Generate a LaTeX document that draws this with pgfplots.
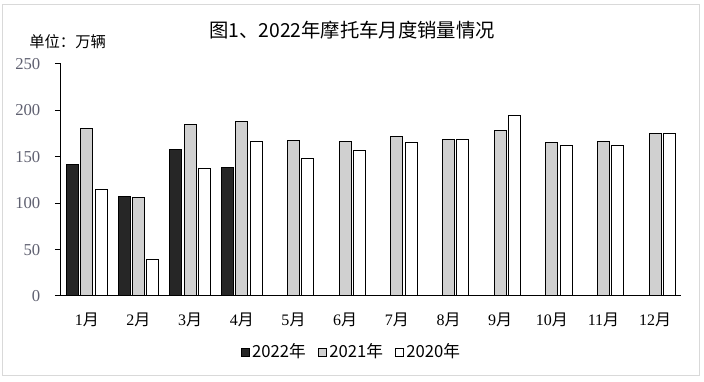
\documentclass[border=0pt]{standalone}
\usepackage{pgfplots}
\pgfplotsset{compat=1.18}
\usepackage{fontspec}
\setmainfont{Liberation Serif}
\newfontfamily\cjk{Noto Sans CJK SC}
\definecolor{c22}{HTML}{262626}
\definecolor{c21}{HTML}{D0D0D0}
\definecolor{c20}{HTML}{FFFFFF}
\definecolor{tickc}{HTML}{5F6070}
\definecolor{framec}{HTML}{D9D9D9}
\begin{document}
\begin{tikzpicture}
\begin{axis}[
  name=ax,
  scale only axis,
  width=465pt, height=174pt,
  ybar=1.7pt, bar width=9pt,
  ymin=0, ymax=250,
  xmin=-0.5, xmax=11.5,
  ytick={0,50,100,150,200,250},
  xtick={0,...,11},
  xticklabels={1{\cjk 月},2{\cjk 月},3{\cjk 月},4{\cjk 月},5{\cjk 月},6{\cjk 月},7{\cjk 月},8{\cjk 月},9{\cjk 月},10{\cjk 月},11{\cjk 月},12{\cjk 月}},
  axis x line*=bottom, axis y line*=left,
  axis line style={-, line width=0.75pt, black},
  xtick style={draw=none},
  ytick style={line width=0.75pt, black},
  tick align=outside, major tick length=4.5pt,
  /pgf/number format/assume math mode=true,
  yticklabel style={font=\fontsize{12.5}{13}\selectfont, color=tickc, xshift=-7.5pt},
  xticklabel style={font=\fontsize{12}{13}\selectfont, yshift=-5pt},
  legend style={draw=none, at={(0.469,-0.241)}, anchor=center,
    font=\cjk\fontsize{12.5}{13}\selectfont, legend columns=3,
    /tikz/every even column/.append style={column sep=7pt}},
  legend image code/.code={\draw[#1, line width=0.6pt] (0pt,-3pt) rectangle (6pt,3pt);},
]
\addplot[fill=c22, draw=black, line width=0.75pt] coordinates {(0,142) (1,107.5) (2,157.5) (3,139)};
\addplot[fill=c21, draw=black, line width=0.75pt] coordinates {(0,180) (1,106) (2,184.5) (3,188.5) (4,167.5) (5,166.5) (6,172) (7,168.5) (8,178) (9,165) (10,166.5) (11,175)};
\addplot[fill=c20, draw=black, line width=0.75pt] coordinates {(0,114.5) (1,39.5) (2,137) (3,166) (4,148) (5,156.5) (6,165) (7,168.5) (8,194) (9,162) (10,162) (11,175)};
\legend{2022年,2021年,2020年}
\end{axis}
\node[font=\cjk\fontsize{14.5}{16}\selectfont] at ([shift={(291*0.75pt,266*0.75pt)}]ax.south west) {图1、2022年摩托车月度销量情况};
\node[font=\cjk\fontsize{11.5}{12}\selectfont, anchor=west, inner sep=0pt] at ([shift={(-32*0.75pt,254*0.75pt)}]ax.south west) {单位：万辆};
\draw[framec, line width=0.75pt] ([shift={(-58*0.75pt,-80*0.75pt)}]ax.south west) rectangle ([shift={(638*0.75pt,291*0.75pt)}]ax.south west);
\useasboundingbox ([shift={(-61*0.75pt,-86*0.75pt)}]ax.south west) rectangle ([shift={(643*0.75pt,296*0.75pt)}]ax.south west);
\end{tikzpicture}
\end{document}
